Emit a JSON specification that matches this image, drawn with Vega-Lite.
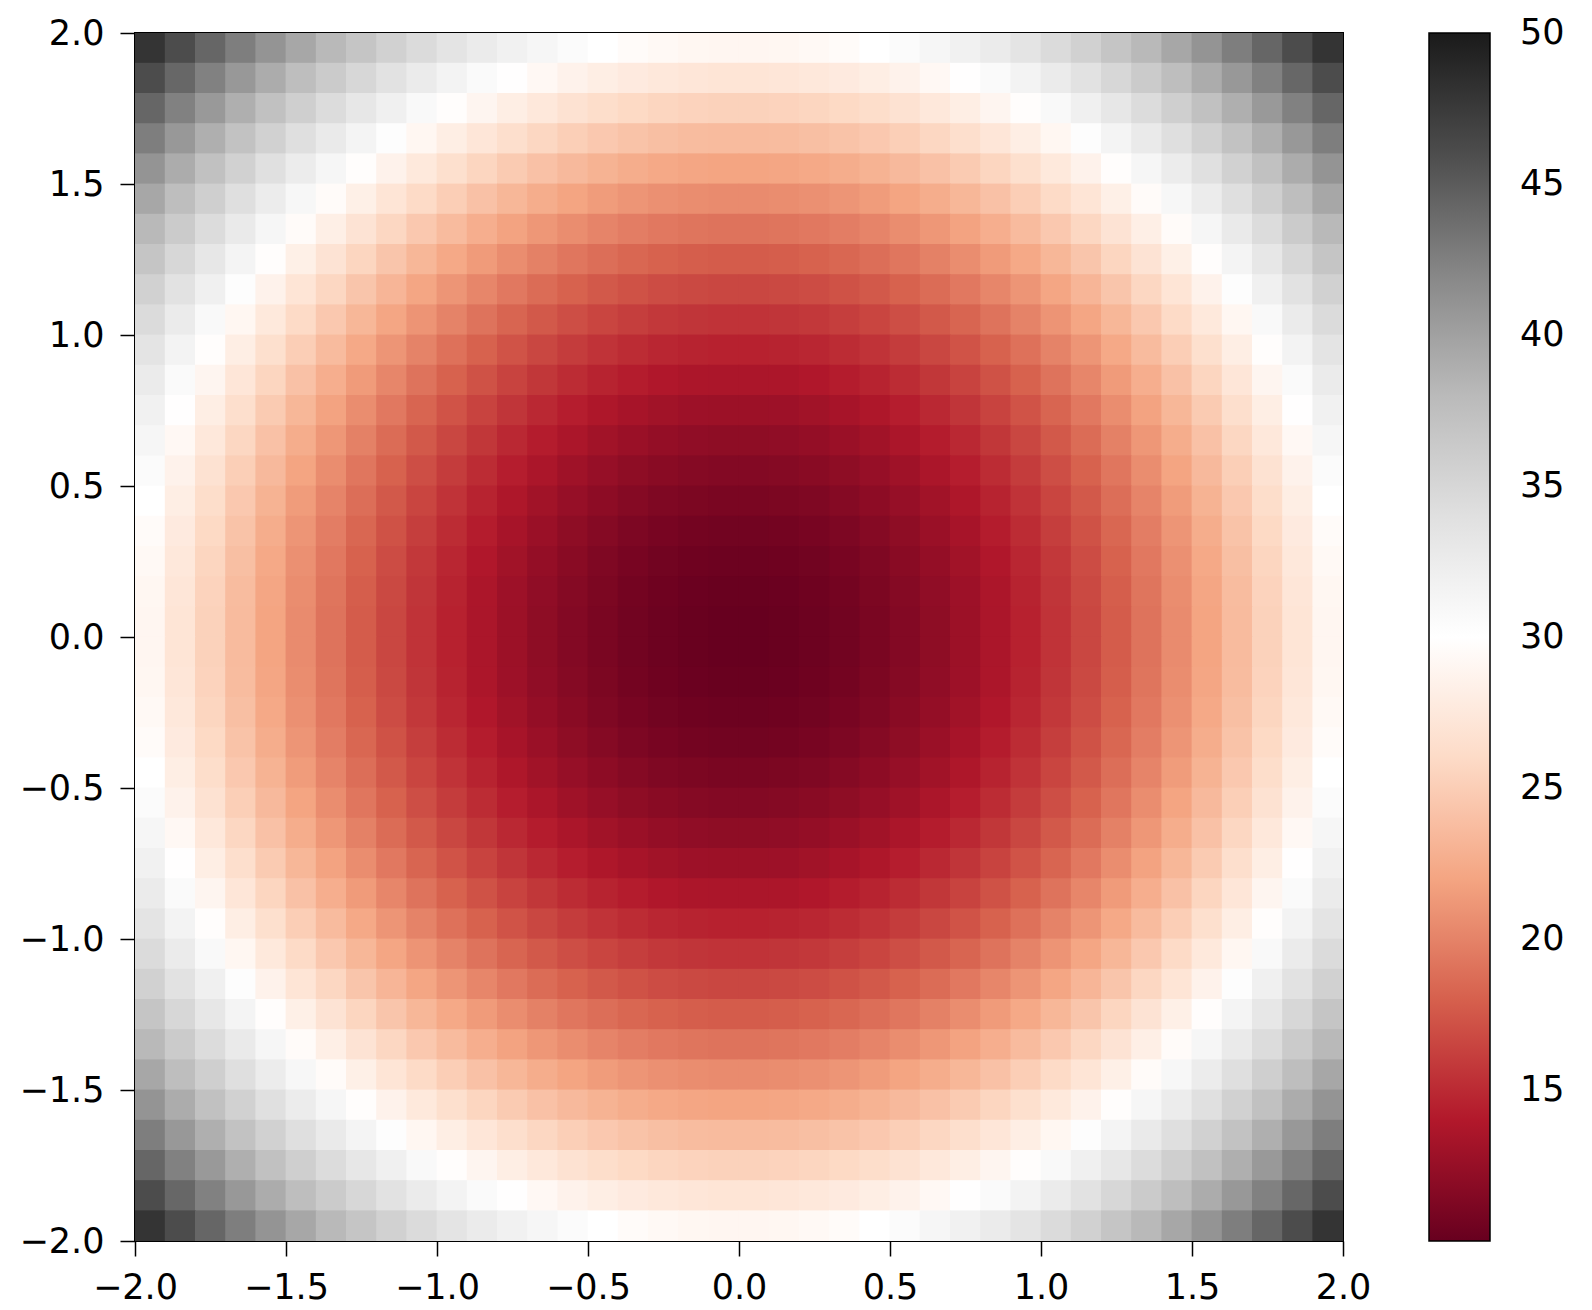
{
"$schema":"https://vega.github.io/schema/vega-lite/v6.json",
"autosize":"none",
"width":1208,"height":1208,
"padding":{"left":135,"top":33,"right":249,"bottom":69},
"background":"white",
"config":{"view":{"stroke":"black","strokeWidth":2},
"axis":{"labelFont":"DejaVu Sans","labelFontSize":35,"labelColor":"black","tickColor":"black","tickSize":15,"tickWidth":1.5,"domain":false,"grid":false,"title":null,"labelOverlap":false,"labelBound":false,"labelFlush":false}},
"data":{"values":[
{"x":-1.95,"y":1.95,"z":48.0},{"x":-1.85,"y":1.95,"z":46.1},{"x":-1.75,"y":1.95,"z":44.3},{"x":-1.65,"y":1.95,"z":42.6},{"x":-1.55,"y":1.95,"z":41.0},{"x":-1.45,"y":1.95,"z":39.5},{"x":-1.35,"y":1.95,"z":38.1},{"x":-1.25,"y":1.95,"z":36.8},{"x":-1.15,"y":1.95,"z":35.6},{"x":-1.05,"y":1.95,"z":34.5},{"x":-0.95,"y":1.95,"z":33.5},{"x":-0.85,"y":1.95,"z":32.6},{"x":-0.75,"y":1.95,"z":31.8},{"x":-0.65,"y":1.95,"z":31.1},{"x":-0.55,"y":1.95,"z":30.5},{"x":-0.45,"y":1.95,"z":30.0},{"x":-0.35,"y":1.95,"z":29.6},{"x":-0.25,"y":1.95,"z":29.3},{"x":-0.15,"y":1.95,"z":29.1},{"x":-0.05,"y":1.95,"z":29.0},{"x":0.05,"y":1.95,"z":29.0},{"x":0.15,"y":1.95,"z":29.1},{"x":0.25,"y":1.95,"z":29.3},{"x":0.35,"y":1.95,"z":29.6},{"x":0.45,"y":1.95,"z":30.0},{"x":0.55,"y":1.95,"z":30.5},{"x":0.65,"y":1.95,"z":31.1},{"x":0.75,"y":1.95,"z":31.8},{"x":0.85,"y":1.95,"z":32.6},{"x":0.95,"y":1.95,"z":33.5},{"x":1.05,"y":1.95,"z":34.5},{"x":1.15,"y":1.95,"z":35.6},{"x":1.25,"y":1.95,"z":36.8},{"x":1.35,"y":1.95,"z":38.1},{"x":1.45,"y":1.95,"z":39.5},{"x":1.55,"y":1.95,"z":41.0},{"x":1.65,"y":1.95,"z":42.6},{"x":1.75,"y":1.95,"z":44.3},{"x":1.85,"y":1.95,"z":46.1},{"x":1.95,"y":1.95,"z":48.0},
{"x":-1.95,"y":1.85,"z":46.1},{"x":-1.85,"y":1.85,"z":44.2},{"x":-1.75,"y":1.85,"z":42.4},{"x":-1.65,"y":1.85,"z":40.7},{"x":-1.55,"y":1.85,"z":39.1},{"x":-1.45,"y":1.85,"z":37.6},{"x":-1.35,"y":1.85,"z":36.2},{"x":-1.25,"y":1.85,"z":34.9},{"x":-1.15,"y":1.85,"z":33.7},{"x":-1.05,"y":1.85,"z":32.6},{"x":-0.95,"y":1.85,"z":31.6},{"x":-0.85,"y":1.85,"z":30.7},{"x":-0.75,"y":1.85,"z":29.9},{"x":-0.65,"y":1.85,"z":29.2},{"x":-0.55,"y":1.85,"z":28.6},{"x":-0.45,"y":1.85,"z":28.1},{"x":-0.35,"y":1.85,"z":27.7},{"x":-0.25,"y":1.85,"z":27.4},{"x":-0.15,"y":1.85,"z":27.2},{"x":-0.05,"y":1.85,"z":27.1},{"x":0.05,"y":1.85,"z":27.1},{"x":0.15,"y":1.85,"z":27.2},{"x":0.25,"y":1.85,"z":27.4},{"x":0.35,"y":1.85,"z":27.7},{"x":0.45,"y":1.85,"z":28.1},{"x":0.55,"y":1.85,"z":28.6},{"x":0.65,"y":1.85,"z":29.2},{"x":0.75,"y":1.85,"z":29.9},{"x":0.85,"y":1.85,"z":30.7},{"x":0.95,"y":1.85,"z":31.6},{"x":1.05,"y":1.85,"z":32.6},{"x":1.15,"y":1.85,"z":33.7},{"x":1.25,"y":1.85,"z":34.9},{"x":1.35,"y":1.85,"z":36.2},{"x":1.45,"y":1.85,"z":37.6},{"x":1.55,"y":1.85,"z":39.1},{"x":1.65,"y":1.85,"z":40.7},{"x":1.75,"y":1.85,"z":42.4},{"x":1.85,"y":1.85,"z":44.2},{"x":1.95,"y":1.85,"z":46.1},
{"x":-1.95,"y":1.75,"z":44.3},{"x":-1.85,"y":1.75,"z":42.4},{"x":-1.75,"y":1.75,"z":40.6},{"x":-1.65,"y":1.75,"z":38.9},{"x":-1.55,"y":1.75,"z":37.3},{"x":-1.45,"y":1.75,"z":35.8},{"x":-1.35,"y":1.75,"z":34.4},{"x":-1.25,"y":1.75,"z":33.1},{"x":-1.15,"y":1.75,"z":31.9},{"x":-1.05,"y":1.75,"z":30.8},{"x":-0.95,"y":1.75,"z":29.8},{"x":-0.85,"y":1.75,"z":28.9},{"x":-0.75,"y":1.75,"z":28.1},{"x":-0.65,"y":1.75,"z":27.4},{"x":-0.55,"y":1.75,"z":26.8},{"x":-0.45,"y":1.75,"z":26.3},{"x":-0.35,"y":1.75,"z":25.9},{"x":-0.25,"y":1.75,"z":25.6},{"x":-0.15,"y":1.75,"z":25.4},{"x":-0.05,"y":1.75,"z":25.3},{"x":0.05,"y":1.75,"z":25.3},{"x":0.15,"y":1.75,"z":25.4},{"x":0.25,"y":1.75,"z":25.6},{"x":0.35,"y":1.75,"z":25.9},{"x":0.45,"y":1.75,"z":26.3},{"x":0.55,"y":1.75,"z":26.8},{"x":0.65,"y":1.75,"z":27.4},{"x":0.75,"y":1.75,"z":28.1},{"x":0.85,"y":1.75,"z":28.9},{"x":0.95,"y":1.75,"z":29.8},{"x":1.05,"y":1.75,"z":30.8},{"x":1.15,"y":1.75,"z":31.9},{"x":1.25,"y":1.75,"z":33.1},{"x":1.35,"y":1.75,"z":34.4},{"x":1.45,"y":1.75,"z":35.8},{"x":1.55,"y":1.75,"z":37.3},{"x":1.65,"y":1.75,"z":38.9},{"x":1.75,"y":1.75,"z":40.6},{"x":1.85,"y":1.75,"z":42.4},{"x":1.95,"y":1.75,"z":44.3},
{"x":-1.95,"y":1.65,"z":42.6},{"x":-1.85,"y":1.65,"z":40.7},{"x":-1.75,"y":1.65,"z":38.9},{"x":-1.65,"y":1.65,"z":37.2},{"x":-1.55,"y":1.65,"z":35.6},{"x":-1.45,"y":1.65,"z":34.1},{"x":-1.35,"y":1.65,"z":32.7},{"x":-1.25,"y":1.65,"z":31.4},{"x":-1.15,"y":1.65,"z":30.2},{"x":-1.05,"y":1.65,"z":29.1},{"x":-0.95,"y":1.65,"z":28.1},{"x":-0.85,"y":1.65,"z":27.2},{"x":-0.75,"y":1.65,"z":26.4},{"x":-0.65,"y":1.65,"z":25.7},{"x":-0.55,"y":1.65,"z":25.1},{"x":-0.45,"y":1.65,"z":24.6},{"x":-0.35,"y":1.65,"z":24.2},{"x":-0.25,"y":1.65,"z":23.9},{"x":-0.15,"y":1.65,"z":23.7},{"x":-0.05,"y":1.65,"z":23.6},{"x":0.05,"y":1.65,"z":23.6},{"x":0.15,"y":1.65,"z":23.7},{"x":0.25,"y":1.65,"z":23.9},{"x":0.35,"y":1.65,"z":24.2},{"x":0.45,"y":1.65,"z":24.6},{"x":0.55,"y":1.65,"z":25.1},{"x":0.65,"y":1.65,"z":25.7},{"x":0.75,"y":1.65,"z":26.4},{"x":0.85,"y":1.65,"z":27.2},{"x":0.95,"y":1.65,"z":28.1},{"x":1.05,"y":1.65,"z":29.1},{"x":1.15,"y":1.65,"z":30.2},{"x":1.25,"y":1.65,"z":31.4},{"x":1.35,"y":1.65,"z":32.7},{"x":1.45,"y":1.65,"z":34.1},{"x":1.55,"y":1.65,"z":35.6},{"x":1.65,"y":1.65,"z":37.2},{"x":1.75,"y":1.65,"z":38.9},{"x":1.85,"y":1.65,"z":40.7},{"x":1.95,"y":1.65,"z":42.6},
{"x":-1.95,"y":1.55,"z":41.0},{"x":-1.85,"y":1.55,"z":39.1},{"x":-1.75,"y":1.55,"z":37.3},{"x":-1.65,"y":1.55,"z":35.6},{"x":-1.55,"y":1.55,"z":34.0},{"x":-1.45,"y":1.55,"z":32.5},{"x":-1.35,"y":1.55,"z":31.1},{"x":-1.25,"y":1.55,"z":29.8},{"x":-1.15,"y":1.55,"z":28.6},{"x":-1.05,"y":1.55,"z":27.5},{"x":-0.95,"y":1.55,"z":26.5},{"x":-0.85,"y":1.55,"z":25.6},{"x":-0.75,"y":1.55,"z":24.8},{"x":-0.65,"y":1.55,"z":24.1},{"x":-0.55,"y":1.55,"z":23.5},{"x":-0.45,"y":1.55,"z":23.0},{"x":-0.35,"y":1.55,"z":22.6},{"x":-0.25,"y":1.55,"z":22.3},{"x":-0.15,"y":1.55,"z":22.1},{"x":-0.05,"y":1.55,"z":22.0},{"x":0.05,"y":1.55,"z":22.0},{"x":0.15,"y":1.55,"z":22.1},{"x":0.25,"y":1.55,"z":22.3},{"x":0.35,"y":1.55,"z":22.6},{"x":0.45,"y":1.55,"z":23.0},{"x":0.55,"y":1.55,"z":23.5},{"x":0.65,"y":1.55,"z":24.1},{"x":0.75,"y":1.55,"z":24.8},{"x":0.85,"y":1.55,"z":25.6},{"x":0.95,"y":1.55,"z":26.5},{"x":1.05,"y":1.55,"z":27.5},{"x":1.15,"y":1.55,"z":28.6},{"x":1.25,"y":1.55,"z":29.8},{"x":1.35,"y":1.55,"z":31.1},{"x":1.45,"y":1.55,"z":32.5},{"x":1.55,"y":1.55,"z":34.0},{"x":1.65,"y":1.55,"z":35.6},{"x":1.75,"y":1.55,"z":37.3},{"x":1.85,"y":1.55,"z":39.1},{"x":1.95,"y":1.55,"z":41.0},
{"x":-1.95,"y":1.45,"z":39.5},{"x":-1.85,"y":1.45,"z":37.6},{"x":-1.75,"y":1.45,"z":35.8},{"x":-1.65,"y":1.45,"z":34.1},{"x":-1.55,"y":1.45,"z":32.5},{"x":-1.45,"y":1.45,"z":31.0},{"x":-1.35,"y":1.45,"z":29.6},{"x":-1.25,"y":1.45,"z":28.3},{"x":-1.15,"y":1.45,"z":27.1},{"x":-1.05,"y":1.45,"z":26.0},{"x":-0.95,"y":1.45,"z":25.0},{"x":-0.85,"y":1.45,"z":24.1},{"x":-0.75,"y":1.45,"z":23.3},{"x":-0.65,"y":1.45,"z":22.6},{"x":-0.55,"y":1.45,"z":22.0},{"x":-0.45,"y":1.45,"z":21.5},{"x":-0.35,"y":1.45,"z":21.1},{"x":-0.25,"y":1.45,"z":20.8},{"x":-0.15,"y":1.45,"z":20.6},{"x":-0.05,"y":1.45,"z":20.5},{"x":0.05,"y":1.45,"z":20.5},{"x":0.15,"y":1.45,"z":20.6},{"x":0.25,"y":1.45,"z":20.8},{"x":0.35,"y":1.45,"z":21.1},{"x":0.45,"y":1.45,"z":21.5},{"x":0.55,"y":1.45,"z":22.0},{"x":0.65,"y":1.45,"z":22.6},{"x":0.75,"y":1.45,"z":23.3},{"x":0.85,"y":1.45,"z":24.1},{"x":0.95,"y":1.45,"z":25.0},{"x":1.05,"y":1.45,"z":26.0},{"x":1.15,"y":1.45,"z":27.1},{"x":1.25,"y":1.45,"z":28.3},{"x":1.35,"y":1.45,"z":29.6},{"x":1.45,"y":1.45,"z":31.0},{"x":1.55,"y":1.45,"z":32.5},{"x":1.65,"y":1.45,"z":34.1},{"x":1.75,"y":1.45,"z":35.8},{"x":1.85,"y":1.45,"z":37.6},{"x":1.95,"y":1.45,"z":39.5},
{"x":-1.95,"y":1.35,"z":38.1},{"x":-1.85,"y":1.35,"z":36.2},{"x":-1.75,"y":1.35,"z":34.4},{"x":-1.65,"y":1.35,"z":32.7},{"x":-1.55,"y":1.35,"z":31.1},{"x":-1.45,"y":1.35,"z":29.6},{"x":-1.35,"y":1.35,"z":28.2},{"x":-1.25,"y":1.35,"z":26.9},{"x":-1.15,"y":1.35,"z":25.7},{"x":-1.05,"y":1.35,"z":24.6},{"x":-0.95,"y":1.35,"z":23.6},{"x":-0.85,"y":1.35,"z":22.7},{"x":-0.75,"y":1.35,"z":21.9},{"x":-0.65,"y":1.35,"z":21.2},{"x":-0.55,"y":1.35,"z":20.6},{"x":-0.45,"y":1.35,"z":20.1},{"x":-0.35,"y":1.35,"z":19.7},{"x":-0.25,"y":1.35,"z":19.4},{"x":-0.15,"y":1.35,"z":19.2},{"x":-0.05,"y":1.35,"z":19.1},{"x":0.05,"y":1.35,"z":19.1},{"x":0.15,"y":1.35,"z":19.2},{"x":0.25,"y":1.35,"z":19.4},{"x":0.35,"y":1.35,"z":19.7},{"x":0.45,"y":1.35,"z":20.1},{"x":0.55,"y":1.35,"z":20.6},{"x":0.65,"y":1.35,"z":21.2},{"x":0.75,"y":1.35,"z":21.9},{"x":0.85,"y":1.35,"z":22.7},{"x":0.95,"y":1.35,"z":23.6},{"x":1.05,"y":1.35,"z":24.6},{"x":1.15,"y":1.35,"z":25.7},{"x":1.25,"y":1.35,"z":26.9},{"x":1.35,"y":1.35,"z":28.2},{"x":1.45,"y":1.35,"z":29.6},{"x":1.55,"y":1.35,"z":31.1},{"x":1.65,"y":1.35,"z":32.7},{"x":1.75,"y":1.35,"z":34.4},{"x":1.85,"y":1.35,"z":36.2},{"x":1.95,"y":1.35,"z":38.1},
{"x":-1.95,"y":1.25,"z":36.8},{"x":-1.85,"y":1.25,"z":34.9},{"x":-1.75,"y":1.25,"z":33.1},{"x":-1.65,"y":1.25,"z":31.4},{"x":-1.55,"y":1.25,"z":29.8},{"x":-1.45,"y":1.25,"z":28.3},{"x":-1.35,"y":1.25,"z":26.9},{"x":-1.25,"y":1.25,"z":25.6},{"x":-1.15,"y":1.25,"z":24.4},{"x":-1.05,"y":1.25,"z":23.3},{"x":-0.95,"y":1.25,"z":22.3},{"x":-0.85,"y":1.25,"z":21.4},{"x":-0.75,"y":1.25,"z":20.6},{"x":-0.65,"y":1.25,"z":19.9},{"x":-0.55,"y":1.25,"z":19.3},{"x":-0.45,"y":1.25,"z":18.8},{"x":-0.35,"y":1.25,"z":18.4},{"x":-0.25,"y":1.25,"z":18.1},{"x":-0.15,"y":1.25,"z":17.9},{"x":-0.05,"y":1.25,"z":17.8},{"x":0.05,"y":1.25,"z":17.8},{"x":0.15,"y":1.25,"z":17.9},{"x":0.25,"y":1.25,"z":18.1},{"x":0.35,"y":1.25,"z":18.4},{"x":0.45,"y":1.25,"z":18.8},{"x":0.55,"y":1.25,"z":19.3},{"x":0.65,"y":1.25,"z":19.9},{"x":0.75,"y":1.25,"z":20.6},{"x":0.85,"y":1.25,"z":21.4},{"x":0.95,"y":1.25,"z":22.3},{"x":1.05,"y":1.25,"z":23.3},{"x":1.15,"y":1.25,"z":24.4},{"x":1.25,"y":1.25,"z":25.6},{"x":1.35,"y":1.25,"z":26.9},{"x":1.45,"y":1.25,"z":28.3},{"x":1.55,"y":1.25,"z":29.8},{"x":1.65,"y":1.25,"z":31.4},{"x":1.75,"y":1.25,"z":33.1},{"x":1.85,"y":1.25,"z":34.9},{"x":1.95,"y":1.25,"z":36.8},
{"x":-1.95,"y":1.15,"z":35.6},{"x":-1.85,"y":1.15,"z":33.7},{"x":-1.75,"y":1.15,"z":31.9},{"x":-1.65,"y":1.15,"z":30.2},{"x":-1.55,"y":1.15,"z":28.6},{"x":-1.45,"y":1.15,"z":27.1},{"x":-1.35,"y":1.15,"z":25.7},{"x":-1.25,"y":1.15,"z":24.4},{"x":-1.15,"y":1.15,"z":23.2},{"x":-1.05,"y":1.15,"z":22.1},{"x":-0.95,"y":1.15,"z":21.1},{"x":-0.85,"y":1.15,"z":20.2},{"x":-0.75,"y":1.15,"z":19.4},{"x":-0.65,"y":1.15,"z":18.7},{"x":-0.55,"y":1.15,"z":18.1},{"x":-0.45,"y":1.15,"z":17.6},{"x":-0.35,"y":1.15,"z":17.2},{"x":-0.25,"y":1.15,"z":16.9},{"x":-0.15,"y":1.15,"z":16.7},{"x":-0.05,"y":1.15,"z":16.6},{"x":0.05,"y":1.15,"z":16.6},{"x":0.15,"y":1.15,"z":16.7},{"x":0.25,"y":1.15,"z":16.9},{"x":0.35,"y":1.15,"z":17.2},{"x":0.45,"y":1.15,"z":17.6},{"x":0.55,"y":1.15,"z":18.1},{"x":0.65,"y":1.15,"z":18.7},{"x":0.75,"y":1.15,"z":19.4},{"x":0.85,"y":1.15,"z":20.2},{"x":0.95,"y":1.15,"z":21.1},{"x":1.05,"y":1.15,"z":22.1},{"x":1.15,"y":1.15,"z":23.2},{"x":1.25,"y":1.15,"z":24.4},{"x":1.35,"y":1.15,"z":25.7},{"x":1.45,"y":1.15,"z":27.1},{"x":1.55,"y":1.15,"z":28.6},{"x":1.65,"y":1.15,"z":30.2},{"x":1.75,"y":1.15,"z":31.9},{"x":1.85,"y":1.15,"z":33.7},{"x":1.95,"y":1.15,"z":35.6},
{"x":-1.95,"y":1.05,"z":34.5},{"x":-1.85,"y":1.05,"z":32.6},{"x":-1.75,"y":1.05,"z":30.8},{"x":-1.65,"y":1.05,"z":29.1},{"x":-1.55,"y":1.05,"z":27.5},{"x":-1.45,"y":1.05,"z":26.0},{"x":-1.35,"y":1.05,"z":24.6},{"x":-1.25,"y":1.05,"z":23.3},{"x":-1.15,"y":1.05,"z":22.1},{"x":-1.05,"y":1.05,"z":21.0},{"x":-0.95,"y":1.05,"z":20.0},{"x":-0.85,"y":1.05,"z":19.1},{"x":-0.75,"y":1.05,"z":18.3},{"x":-0.65,"y":1.05,"z":17.6},{"x":-0.55,"y":1.05,"z":17.0},{"x":-0.45,"y":1.05,"z":16.5},{"x":-0.35,"y":1.05,"z":16.1},{"x":-0.25,"y":1.05,"z":15.8},{"x":-0.15,"y":1.05,"z":15.6},{"x":-0.05,"y":1.05,"z":15.5},{"x":0.05,"y":1.05,"z":15.5},{"x":0.15,"y":1.05,"z":15.6},{"x":0.25,"y":1.05,"z":15.8},{"x":0.35,"y":1.05,"z":16.1},{"x":0.45,"y":1.05,"z":16.5},{"x":0.55,"y":1.05,"z":17.0},{"x":0.65,"y":1.05,"z":17.6},{"x":0.75,"y":1.05,"z":18.3},{"x":0.85,"y":1.05,"z":19.1},{"x":0.95,"y":1.05,"z":20.0},{"x":1.05,"y":1.05,"z":21.0},{"x":1.15,"y":1.05,"z":22.1},{"x":1.25,"y":1.05,"z":23.3},{"x":1.35,"y":1.05,"z":24.6},{"x":1.45,"y":1.05,"z":26.0},{"x":1.55,"y":1.05,"z":27.5},{"x":1.65,"y":1.05,"z":29.1},{"x":1.75,"y":1.05,"z":30.8},{"x":1.85,"y":1.05,"z":32.6},{"x":1.95,"y":1.05,"z":34.5},
{"x":-1.95,"y":0.95,"z":33.5},{"x":-1.85,"y":0.95,"z":31.6},{"x":-1.75,"y":0.95,"z":29.8},{"x":-1.65,"y":0.95,"z":28.1},{"x":-1.55,"y":0.95,"z":26.5},{"x":-1.45,"y":0.95,"z":25.0},{"x":-1.35,"y":0.95,"z":23.6},{"x":-1.25,"y":0.95,"z":22.3},{"x":-1.15,"y":0.95,"z":21.1},{"x":-1.05,"y":0.95,"z":20.0},{"x":-0.95,"y":0.95,"z":19.0},{"x":-0.85,"y":0.95,"z":18.1},{"x":-0.75,"y":0.95,"z":17.3},{"x":-0.65,"y":0.95,"z":16.6},{"x":-0.55,"y":0.95,"z":16.0},{"x":-0.45,"y":0.95,"z":15.5},{"x":-0.35,"y":0.95,"z":15.1},{"x":-0.25,"y":0.95,"z":14.8},{"x":-0.15,"y":0.95,"z":14.6},{"x":-0.05,"y":0.95,"z":14.5},{"x":0.05,"y":0.95,"z":14.5},{"x":0.15,"y":0.95,"z":14.6},{"x":0.25,"y":0.95,"z":14.8},{"x":0.35,"y":0.95,"z":15.1},{"x":0.45,"y":0.95,"z":15.5},{"x":0.55,"y":0.95,"z":16.0},{"x":0.65,"y":0.95,"z":16.6},{"x":0.75,"y":0.95,"z":17.3},{"x":0.85,"y":0.95,"z":18.1},{"x":0.95,"y":0.95,"z":19.0},{"x":1.05,"y":0.95,"z":20.0},{"x":1.15,"y":0.95,"z":21.1},{"x":1.25,"y":0.95,"z":22.3},{"x":1.35,"y":0.95,"z":23.6},{"x":1.45,"y":0.95,"z":25.0},{"x":1.55,"y":0.95,"z":26.5},{"x":1.65,"y":0.95,"z":28.1},{"x":1.75,"y":0.95,"z":29.8},{"x":1.85,"y":0.95,"z":31.6},{"x":1.95,"y":0.95,"z":33.5},
{"x":-1.95,"y":0.85,"z":32.6},{"x":-1.85,"y":0.85,"z":30.7},{"x":-1.75,"y":0.85,"z":28.9},{"x":-1.65,"y":0.85,"z":27.2},{"x":-1.55,"y":0.85,"z":25.6},{"x":-1.45,"y":0.85,"z":24.1},{"x":-1.35,"y":0.85,"z":22.7},{"x":-1.25,"y":0.85,"z":21.4},{"x":-1.15,"y":0.85,"z":20.2},{"x":-1.05,"y":0.85,"z":19.1},{"x":-0.95,"y":0.85,"z":18.1},{"x":-0.85,"y":0.85,"z":17.2},{"x":-0.75,"y":0.85,"z":16.4},{"x":-0.65,"y":0.85,"z":15.7},{"x":-0.55,"y":0.85,"z":15.1},{"x":-0.45,"y":0.85,"z":14.6},{"x":-0.35,"y":0.85,"z":14.2},{"x":-0.25,"y":0.85,"z":13.9},{"x":-0.15,"y":0.85,"z":13.7},{"x":-0.05,"y":0.85,"z":13.6},{"x":0.05,"y":0.85,"z":13.6},{"x":0.15,"y":0.85,"z":13.7},{"x":0.25,"y":0.85,"z":13.9},{"x":0.35,"y":0.85,"z":14.2},{"x":0.45,"y":0.85,"z":14.6},{"x":0.55,"y":0.85,"z":15.1},{"x":0.65,"y":0.85,"z":15.7},{"x":0.75,"y":0.85,"z":16.4},{"x":0.85,"y":0.85,"z":17.2},{"x":0.95,"y":0.85,"z":18.1},{"x":1.05,"y":0.85,"z":19.1},{"x":1.15,"y":0.85,"z":20.2},{"x":1.25,"y":0.85,"z":21.4},{"x":1.35,"y":0.85,"z":22.7},{"x":1.45,"y":0.85,"z":24.1},{"x":1.55,"y":0.85,"z":25.6},{"x":1.65,"y":0.85,"z":27.2},{"x":1.75,"y":0.85,"z":28.9},{"x":1.85,"y":0.85,"z":30.7},{"x":1.95,"y":0.85,"z":32.6},
{"x":-1.95,"y":0.75,"z":31.8},{"x":-1.85,"y":0.75,"z":29.9},{"x":-1.75,"y":0.75,"z":28.1},{"x":-1.65,"y":0.75,"z":26.4},{"x":-1.55,"y":0.75,"z":24.8},{"x":-1.45,"y":0.75,"z":23.3},{"x":-1.35,"y":0.75,"z":21.9},{"x":-1.25,"y":0.75,"z":20.6},{"x":-1.15,"y":0.75,"z":19.4},{"x":-1.05,"y":0.75,"z":18.3},{"x":-0.95,"y":0.75,"z":17.3},{"x":-0.85,"y":0.75,"z":16.4},{"x":-0.75,"y":0.75,"z":15.6},{"x":-0.65,"y":0.75,"z":14.9},{"x":-0.55,"y":0.75,"z":14.3},{"x":-0.45,"y":0.75,"z":13.8},{"x":-0.35,"y":0.75,"z":13.4},{"x":-0.25,"y":0.75,"z":13.1},{"x":-0.15,"y":0.75,"z":12.9},{"x":-0.05,"y":0.75,"z":12.8},{"x":0.05,"y":0.75,"z":12.8},{"x":0.15,"y":0.75,"z":12.9},{"x":0.25,"y":0.75,"z":13.1},{"x":0.35,"y":0.75,"z":13.4},{"x":0.45,"y":0.75,"z":13.8},{"x":0.55,"y":0.75,"z":14.3},{"x":0.65,"y":0.75,"z":14.9},{"x":0.75,"y":0.75,"z":15.6},{"x":0.85,"y":0.75,"z":16.4},{"x":0.95,"y":0.75,"z":17.3},{"x":1.05,"y":0.75,"z":18.3},{"x":1.15,"y":0.75,"z":19.4},{"x":1.25,"y":0.75,"z":20.6},{"x":1.35,"y":0.75,"z":21.9},{"x":1.45,"y":0.75,"z":23.3},{"x":1.55,"y":0.75,"z":24.8},{"x":1.65,"y":0.75,"z":26.4},{"x":1.75,"y":0.75,"z":28.1},{"x":1.85,"y":0.75,"z":29.9},{"x":1.95,"y":0.75,"z":31.8},
{"x":-1.95,"y":0.65,"z":31.1},{"x":-1.85,"y":0.65,"z":29.2},{"x":-1.75,"y":0.65,"z":27.4},{"x":-1.65,"y":0.65,"z":25.7},{"x":-1.55,"y":0.65,"z":24.1},{"x":-1.45,"y":0.65,"z":22.6},{"x":-1.35,"y":0.65,"z":21.2},{"x":-1.25,"y":0.65,"z":19.9},{"x":-1.15,"y":0.65,"z":18.7},{"x":-1.05,"y":0.65,"z":17.6},{"x":-0.95,"y":0.65,"z":16.6},{"x":-0.85,"y":0.65,"z":15.7},{"x":-0.75,"y":0.65,"z":14.9},{"x":-0.65,"y":0.65,"z":14.2},{"x":-0.55,"y":0.65,"z":13.6},{"x":-0.45,"y":0.65,"z":13.1},{"x":-0.35,"y":0.65,"z":12.7},{"x":-0.25,"y":0.65,"z":12.4},{"x":-0.15,"y":0.65,"z":12.2},{"x":-0.05,"y":0.65,"z":12.1},{"x":0.05,"y":0.65,"z":12.1},{"x":0.15,"y":0.65,"z":12.2},{"x":0.25,"y":0.65,"z":12.4},{"x":0.35,"y":0.65,"z":12.7},{"x":0.45,"y":0.65,"z":13.1},{"x":0.55,"y":0.65,"z":13.6},{"x":0.65,"y":0.65,"z":14.2},{"x":0.75,"y":0.65,"z":14.9},{"x":0.85,"y":0.65,"z":15.7},{"x":0.95,"y":0.65,"z":16.6},{"x":1.05,"y":0.65,"z":17.6},{"x":1.15,"y":0.65,"z":18.7},{"x":1.25,"y":0.65,"z":19.9},{"x":1.35,"y":0.65,"z":21.2},{"x":1.45,"y":0.65,"z":22.6},{"x":1.55,"y":0.65,"z":24.1},{"x":1.65,"y":0.65,"z":25.7},{"x":1.75,"y":0.65,"z":27.4},{"x":1.85,"y":0.65,"z":29.2},{"x":1.95,"y":0.65,"z":31.1},
{"x":-1.95,"y":0.55,"z":30.5},{"x":-1.85,"y":0.55,"z":28.6},{"x":-1.75,"y":0.55,"z":26.8},{"x":-1.65,"y":0.55,"z":25.1},{"x":-1.55,"y":0.55,"z":23.5},{"x":-1.45,"y":0.55,"z":22.0},{"x":-1.35,"y":0.55,"z":20.6},{"x":-1.25,"y":0.55,"z":19.3},{"x":-1.15,"y":0.55,"z":18.1},{"x":-1.05,"y":0.55,"z":17.0},{"x":-0.95,"y":0.55,"z":16.0},{"x":-0.85,"y":0.55,"z":15.1},{"x":-0.75,"y":0.55,"z":14.3},{"x":-0.65,"y":0.55,"z":13.6},{"x":-0.55,"y":0.55,"z":13.0},{"x":-0.45,"y":0.55,"z":12.5},{"x":-0.35,"y":0.55,"z":12.1},{"x":-0.25,"y":0.55,"z":11.8},{"x":-0.15,"y":0.55,"z":11.6},{"x":-0.05,"y":0.55,"z":11.5},{"x":0.05,"y":0.55,"z":11.5},{"x":0.15,"y":0.55,"z":11.6},{"x":0.25,"y":0.55,"z":11.8},{"x":0.35,"y":0.55,"z":12.1},{"x":0.45,"y":0.55,"z":12.5},{"x":0.55,"y":0.55,"z":13.0},{"x":0.65,"y":0.55,"z":13.6},{"x":0.75,"y":0.55,"z":14.3},{"x":0.85,"y":0.55,"z":15.1},{"x":0.95,"y":0.55,"z":16.0},{"x":1.05,"y":0.55,"z":17.0},{"x":1.15,"y":0.55,"z":18.1},{"x":1.25,"y":0.55,"z":19.3},{"x":1.35,"y":0.55,"z":20.6},{"x":1.45,"y":0.55,"z":22.0},{"x":1.55,"y":0.55,"z":23.5},{"x":1.65,"y":0.55,"z":25.1},{"x":1.75,"y":0.55,"z":26.8},{"x":1.85,"y":0.55,"z":28.6},{"x":1.95,"y":0.55,"z":30.5},
{"x":-1.95,"y":0.45,"z":30.0},{"x":-1.85,"y":0.45,"z":28.1},{"x":-1.75,"y":0.45,"z":26.3},{"x":-1.65,"y":0.45,"z":24.6},{"x":-1.55,"y":0.45,"z":23.0},{"x":-1.45,"y":0.45,"z":21.5},{"x":-1.35,"y":0.45,"z":20.1},{"x":-1.25,"y":0.45,"z":18.8},{"x":-1.15,"y":0.45,"z":17.6},{"x":-1.05,"y":0.45,"z":16.5},{"x":-0.95,"y":0.45,"z":15.5},{"x":-0.85,"y":0.45,"z":14.6},{"x":-0.75,"y":0.45,"z":13.8},{"x":-0.65,"y":0.45,"z":13.1},{"x":-0.55,"y":0.45,"z":12.5},{"x":-0.45,"y":0.45,"z":12.0},{"x":-0.35,"y":0.45,"z":11.6},{"x":-0.25,"y":0.45,"z":11.3},{"x":-0.15,"y":0.45,"z":11.1},{"x":-0.05,"y":0.45,"z":11.0},{"x":0.05,"y":0.45,"z":11.0},{"x":0.15,"y":0.45,"z":11.1},{"x":0.25,"y":0.45,"z":11.3},{"x":0.35,"y":0.45,"z":11.6},{"x":0.45,"y":0.45,"z":12.0},{"x":0.55,"y":0.45,"z":12.5},{"x":0.65,"y":0.45,"z":13.1},{"x":0.75,"y":0.45,"z":13.8},{"x":0.85,"y":0.45,"z":14.6},{"x":0.95,"y":0.45,"z":15.5},{"x":1.05,"y":0.45,"z":16.5},{"x":1.15,"y":0.45,"z":17.6},{"x":1.25,"y":0.45,"z":18.8},{"x":1.35,"y":0.45,"z":20.1},{"x":1.45,"y":0.45,"z":21.5},{"x":1.55,"y":0.45,"z":23.0},{"x":1.65,"y":0.45,"z":24.6},{"x":1.75,"y":0.45,"z":26.3},{"x":1.85,"y":0.45,"z":28.1},{"x":1.95,"y":0.45,"z":30.0},
{"x":-1.95,"y":0.35,"z":29.6},{"x":-1.85,"y":0.35,"z":27.7},{"x":-1.75,"y":0.35,"z":25.9},{"x":-1.65,"y":0.35,"z":24.2},{"x":-1.55,"y":0.35,"z":22.6},{"x":-1.45,"y":0.35,"z":21.1},{"x":-1.35,"y":0.35,"z":19.7},{"x":-1.25,"y":0.35,"z":18.4},{"x":-1.15,"y":0.35,"z":17.2},{"x":-1.05,"y":0.35,"z":16.1},{"x":-0.95,"y":0.35,"z":15.1},{"x":-0.85,"y":0.35,"z":14.2},{"x":-0.75,"y":0.35,"z":13.4},{"x":-0.65,"y":0.35,"z":12.7},{"x":-0.55,"y":0.35,"z":12.1},{"x":-0.45,"y":0.35,"z":11.6},{"x":-0.35,"y":0.35,"z":11.2},{"x":-0.25,"y":0.35,"z":10.9},{"x":-0.15,"y":0.35,"z":10.7},{"x":-0.05,"y":0.35,"z":10.6},{"x":0.05,"y":0.35,"z":10.6},{"x":0.15,"y":0.35,"z":10.7},{"x":0.25,"y":0.35,"z":10.9},{"x":0.35,"y":0.35,"z":11.2},{"x":0.45,"y":0.35,"z":11.6},{"x":0.55,"y":0.35,"z":12.1},{"x":0.65,"y":0.35,"z":12.7},{"x":0.75,"y":0.35,"z":13.4},{"x":0.85,"y":0.35,"z":14.2},{"x":0.95,"y":0.35,"z":15.1},{"x":1.05,"y":0.35,"z":16.1},{"x":1.15,"y":0.35,"z":17.2},{"x":1.25,"y":0.35,"z":18.4},{"x":1.35,"y":0.35,"z":19.7},{"x":1.45,"y":0.35,"z":21.1},{"x":1.55,"y":0.35,"z":22.6},{"x":1.65,"y":0.35,"z":24.2},{"x":1.75,"y":0.35,"z":25.9},{"x":1.85,"y":0.35,"z":27.7},{"x":1.95,"y":0.35,"z":29.6},
{"x":-1.95,"y":0.25,"z":29.3},{"x":-1.85,"y":0.25,"z":27.4},{"x":-1.75,"y":0.25,"z":25.6},{"x":-1.65,"y":0.25,"z":23.9},{"x":-1.55,"y":0.25,"z":22.3},{"x":-1.45,"y":0.25,"z":20.8},{"x":-1.35,"y":0.25,"z":19.4},{"x":-1.25,"y":0.25,"z":18.1},{"x":-1.15,"y":0.25,"z":16.9},{"x":-1.05,"y":0.25,"z":15.8},{"x":-0.95,"y":0.25,"z":14.8},{"x":-0.85,"y":0.25,"z":13.9},{"x":-0.75,"y":0.25,"z":13.1},{"x":-0.65,"y":0.25,"z":12.4},{"x":-0.55,"y":0.25,"z":11.8},{"x":-0.45,"y":0.25,"z":11.3},{"x":-0.35,"y":0.25,"z":10.9},{"x":-0.25,"y":0.25,"z":10.6},{"x":-0.15,"y":0.25,"z":10.4},{"x":-0.05,"y":0.25,"z":10.3},{"x":0.05,"y":0.25,"z":10.3},{"x":0.15,"y":0.25,"z":10.4},{"x":0.25,"y":0.25,"z":10.6},{"x":0.35,"y":0.25,"z":10.9},{"x":0.45,"y":0.25,"z":11.3},{"x":0.55,"y":0.25,"z":11.8},{"x":0.65,"y":0.25,"z":12.4},{"x":0.75,"y":0.25,"z":13.1},{"x":0.85,"y":0.25,"z":13.9},{"x":0.95,"y":0.25,"z":14.8},{"x":1.05,"y":0.25,"z":15.8},{"x":1.15,"y":0.25,"z":16.9},{"x":1.25,"y":0.25,"z":18.1},{"x":1.35,"y":0.25,"z":19.4},{"x":1.45,"y":0.25,"z":20.8},{"x":1.55,"y":0.25,"z":22.3},{"x":1.65,"y":0.25,"z":23.9},{"x":1.75,"y":0.25,"z":25.6},{"x":1.85,"y":0.25,"z":27.4},{"x":1.95,"y":0.25,"z":29.3},
{"x":-1.95,"y":0.15,"z":29.1},{"x":-1.85,"y":0.15,"z":27.2},{"x":-1.75,"y":0.15,"z":25.4},{"x":-1.65,"y":0.15,"z":23.7},{"x":-1.55,"y":0.15,"z":22.1},{"x":-1.45,"y":0.15,"z":20.6},{"x":-1.35,"y":0.15,"z":19.2},{"x":-1.25,"y":0.15,"z":17.9},{"x":-1.15,"y":0.15,"z":16.7},{"x":-1.05,"y":0.15,"z":15.6},{"x":-0.95,"y":0.15,"z":14.6},{"x":-0.85,"y":0.15,"z":13.7},{"x":-0.75,"y":0.15,"z":12.9},{"x":-0.65,"y":0.15,"z":12.2},{"x":-0.55,"y":0.15,"z":11.6},{"x":-0.45,"y":0.15,"z":11.1},{"x":-0.35,"y":0.15,"z":10.7},{"x":-0.25,"y":0.15,"z":10.4},{"x":-0.15,"y":0.15,"z":10.2},{"x":-0.05,"y":0.15,"z":10.1},{"x":0.05,"y":0.15,"z":10.1},{"x":0.15,"y":0.15,"z":10.2},{"x":0.25,"y":0.15,"z":10.4},{"x":0.35,"y":0.15,"z":10.7},{"x":0.45,"y":0.15,"z":11.1},{"x":0.55,"y":0.15,"z":11.6},{"x":0.65,"y":0.15,"z":12.2},{"x":0.75,"y":0.15,"z":12.9},{"x":0.85,"y":0.15,"z":13.7},{"x":0.95,"y":0.15,"z":14.6},{"x":1.05,"y":0.15,"z":15.6},{"x":1.15,"y":0.15,"z":16.7},{"x":1.25,"y":0.15,"z":17.9},{"x":1.35,"y":0.15,"z":19.2},{"x":1.45,"y":0.15,"z":20.6},{"x":1.55,"y":0.15,"z":22.1},{"x":1.65,"y":0.15,"z":23.7},{"x":1.75,"y":0.15,"z":25.4},{"x":1.85,"y":0.15,"z":27.2},{"x":1.95,"y":0.15,"z":29.1},
{"x":-1.95,"y":0.05,"z":29.0},{"x":-1.85,"y":0.05,"z":27.1},{"x":-1.75,"y":0.05,"z":25.3},{"x":-1.65,"y":0.05,"z":23.6},{"x":-1.55,"y":0.05,"z":22.0},{"x":-1.45,"y":0.05,"z":20.5},{"x":-1.35,"y":0.05,"z":19.1},{"x":-1.25,"y":0.05,"z":17.8},{"x":-1.15,"y":0.05,"z":16.6},{"x":-1.05,"y":0.05,"z":15.5},{"x":-0.95,"y":0.05,"z":14.5},{"x":-0.85,"y":0.05,"z":13.6},{"x":-0.75,"y":0.05,"z":12.8},{"x":-0.65,"y":0.05,"z":12.1},{"x":-0.55,"y":0.05,"z":11.5},{"x":-0.45,"y":0.05,"z":11.0},{"x":-0.35,"y":0.05,"z":10.6},{"x":-0.25,"y":0.05,"z":10.3},{"x":-0.15,"y":0.05,"z":10.1},{"x":-0.05,"y":0.05,"z":10.0},{"x":0.05,"y":0.05,"z":10.0},{"x":0.15,"y":0.05,"z":10.1},{"x":0.25,"y":0.05,"z":10.3},{"x":0.35,"y":0.05,"z":10.6},{"x":0.45,"y":0.05,"z":11.0},{"x":0.55,"y":0.05,"z":11.5},{"x":0.65,"y":0.05,"z":12.1},{"x":0.75,"y":0.05,"z":12.8},{"x":0.85,"y":0.05,"z":13.6},{"x":0.95,"y":0.05,"z":14.5},{"x":1.05,"y":0.05,"z":15.5},{"x":1.15,"y":0.05,"z":16.6},{"x":1.25,"y":0.05,"z":17.8},{"x":1.35,"y":0.05,"z":19.1},{"x":1.45,"y":0.05,"z":20.5},{"x":1.55,"y":0.05,"z":22.0},{"x":1.65,"y":0.05,"z":23.6},{"x":1.75,"y":0.05,"z":25.3},{"x":1.85,"y":0.05,"z":27.1},{"x":1.95,"y":0.05,"z":29.0},
{"x":-1.95,"y":-0.05,"z":29.0},{"x":-1.85,"y":-0.05,"z":27.1},{"x":-1.75,"y":-0.05,"z":25.3},{"x":-1.65,"y":-0.05,"z":23.6},{"x":-1.55,"y":-0.05,"z":22.0},{"x":-1.45,"y":-0.05,"z":20.5},{"x":-1.35,"y":-0.05,"z":19.1},{"x":-1.25,"y":-0.05,"z":17.8},{"x":-1.15,"y":-0.05,"z":16.6},{"x":-1.05,"y":-0.05,"z":15.5},{"x":-0.95,"y":-0.05,"z":14.5},{"x":-0.85,"y":-0.05,"z":13.6},{"x":-0.75,"y":-0.05,"z":12.8},{"x":-0.65,"y":-0.05,"z":12.1},{"x":-0.55,"y":-0.05,"z":11.5},{"x":-0.45,"y":-0.05,"z":11.0},{"x":-0.35,"y":-0.05,"z":10.6},{"x":-0.25,"y":-0.05,"z":10.3},{"x":-0.15,"y":-0.05,"z":10.1},{"x":-0.05,"y":-0.05,"z":10.0},{"x":0.05,"y":-0.05,"z":10.0},{"x":0.15,"y":-0.05,"z":10.1},{"x":0.25,"y":-0.05,"z":10.3},{"x":0.35,"y":-0.05,"z":10.6},{"x":0.45,"y":-0.05,"z":11.0},{"x":0.55,"y":-0.05,"z":11.5},{"x":0.65,"y":-0.05,"z":12.1},{"x":0.75,"y":-0.05,"z":12.8},{"x":0.85,"y":-0.05,"z":13.6},{"x":0.95,"y":-0.05,"z":14.5},{"x":1.05,"y":-0.05,"z":15.5},{"x":1.15,"y":-0.05,"z":16.6},{"x":1.25,"y":-0.05,"z":17.8},{"x":1.35,"y":-0.05,"z":19.1},{"x":1.45,"y":-0.05,"z":20.5},{"x":1.55,"y":-0.05,"z":22.0},{"x":1.65,"y":-0.05,"z":23.6},{"x":1.75,"y":-0.05,"z":25.3},{"x":1.85,"y":-0.05,"z":27.1},{"x":1.95,"y":-0.05,"z":29.0},
{"x":-1.95,"y":-0.15,"z":29.1},{"x":-1.85,"y":-0.15,"z":27.2},{"x":-1.75,"y":-0.15,"z":25.4},{"x":-1.65,"y":-0.15,"z":23.7},{"x":-1.55,"y":-0.15,"z":22.1},{"x":-1.45,"y":-0.15,"z":20.6},{"x":-1.35,"y":-0.15,"z":19.2},{"x":-1.25,"y":-0.15,"z":17.9},{"x":-1.15,"y":-0.15,"z":16.7},{"x":-1.05,"y":-0.15,"z":15.6},{"x":-0.95,"y":-0.15,"z":14.6},{"x":-0.85,"y":-0.15,"z":13.7},{"x":-0.75,"y":-0.15,"z":12.9},{"x":-0.65,"y":-0.15,"z":12.2},{"x":-0.55,"y":-0.15,"z":11.6},{"x":-0.45,"y":-0.15,"z":11.1},{"x":-0.35,"y":-0.15,"z":10.7},{"x":-0.25,"y":-0.15,"z":10.4},{"x":-0.15,"y":-0.15,"z":10.2},{"x":-0.05,"y":-0.15,"z":10.1},{"x":0.05,"y":-0.15,"z":10.1},{"x":0.15,"y":-0.15,"z":10.2},{"x":0.25,"y":-0.15,"z":10.4},{"x":0.35,"y":-0.15,"z":10.7},{"x":0.45,"y":-0.15,"z":11.1},{"x":0.55,"y":-0.15,"z":11.6},{"x":0.65,"y":-0.15,"z":12.2},{"x":0.75,"y":-0.15,"z":12.9},{"x":0.85,"y":-0.15,"z":13.7},{"x":0.95,"y":-0.15,"z":14.6},{"x":1.05,"y":-0.15,"z":15.6},{"x":1.15,"y":-0.15,"z":16.7},{"x":1.25,"y":-0.15,"z":17.9},{"x":1.35,"y":-0.15,"z":19.2},{"x":1.45,"y":-0.15,"z":20.6},{"x":1.55,"y":-0.15,"z":22.1},{"x":1.65,"y":-0.15,"z":23.7},{"x":1.75,"y":-0.15,"z":25.4},{"x":1.85,"y":-0.15,"z":27.2},{"x":1.95,"y":-0.15,"z":29.1},
{"x":-1.95,"y":-0.25,"z":29.3},{"x":-1.85,"y":-0.25,"z":27.4},{"x":-1.75,"y":-0.25,"z":25.6},{"x":-1.65,"y":-0.25,"z":23.9},{"x":-1.55,"y":-0.25,"z":22.3},{"x":-1.45,"y":-0.25,"z":20.8},{"x":-1.35,"y":-0.25,"z":19.4},{"x":-1.25,"y":-0.25,"z":18.1},{"x":-1.15,"y":-0.25,"z":16.9},{"x":-1.05,"y":-0.25,"z":15.8},{"x":-0.95,"y":-0.25,"z":14.8},{"x":-0.85,"y":-0.25,"z":13.9},{"x":-0.75,"y":-0.25,"z":13.1},{"x":-0.65,"y":-0.25,"z":12.4},{"x":-0.55,"y":-0.25,"z":11.8},{"x":-0.45,"y":-0.25,"z":11.3},{"x":-0.35,"y":-0.25,"z":10.9},{"x":-0.25,"y":-0.25,"z":10.6},{"x":-0.15,"y":-0.25,"z":10.4},{"x":-0.05,"y":-0.25,"z":10.3},{"x":0.05,"y":-0.25,"z":10.3},{"x":0.15,"y":-0.25,"z":10.4},{"x":0.25,"y":-0.25,"z":10.6},{"x":0.35,"y":-0.25,"z":10.9},{"x":0.45,"y":-0.25,"z":11.3},{"x":0.55,"y":-0.25,"z":11.8},{"x":0.65,"y":-0.25,"z":12.4},{"x":0.75,"y":-0.25,"z":13.1},{"x":0.85,"y":-0.25,"z":13.9},{"x":0.95,"y":-0.25,"z":14.8},{"x":1.05,"y":-0.25,"z":15.8},{"x":1.15,"y":-0.25,"z":16.9},{"x":1.25,"y":-0.25,"z":18.1},{"x":1.35,"y":-0.25,"z":19.4},{"x":1.45,"y":-0.25,"z":20.8},{"x":1.55,"y":-0.25,"z":22.3},{"x":1.65,"y":-0.25,"z":23.9},{"x":1.75,"y":-0.25,"z":25.6},{"x":1.85,"y":-0.25,"z":27.4},{"x":1.95,"y":-0.25,"z":29.3},
{"x":-1.95,"y":-0.35,"z":29.6},{"x":-1.85,"y":-0.35,"z":27.7},{"x":-1.75,"y":-0.35,"z":25.9},{"x":-1.65,"y":-0.35,"z":24.2},{"x":-1.55,"y":-0.35,"z":22.6},{"x":-1.45,"y":-0.35,"z":21.1},{"x":-1.35,"y":-0.35,"z":19.7},{"x":-1.25,"y":-0.35,"z":18.4},{"x":-1.15,"y":-0.35,"z":17.2},{"x":-1.05,"y":-0.35,"z":16.1},{"x":-0.95,"y":-0.35,"z":15.1},{"x":-0.85,"y":-0.35,"z":14.2},{"x":-0.75,"y":-0.35,"z":13.4},{"x":-0.65,"y":-0.35,"z":12.7},{"x":-0.55,"y":-0.35,"z":12.1},{"x":-0.45,"y":-0.35,"z":11.6},{"x":-0.35,"y":-0.35,"z":11.2},{"x":-0.25,"y":-0.35,"z":10.9},{"x":-0.15,"y":-0.35,"z":10.7},{"x":-0.05,"y":-0.35,"z":10.6},{"x":0.05,"y":-0.35,"z":10.6},{"x":0.15,"y":-0.35,"z":10.7},{"x":0.25,"y":-0.35,"z":10.9},{"x":0.35,"y":-0.35,"z":11.2},{"x":0.45,"y":-0.35,"z":11.6},{"x":0.55,"y":-0.35,"z":12.1},{"x":0.65,"y":-0.35,"z":12.7},{"x":0.75,"y":-0.35,"z":13.4},{"x":0.85,"y":-0.35,"z":14.2},{"x":0.95,"y":-0.35,"z":15.1},{"x":1.05,"y":-0.35,"z":16.1},{"x":1.15,"y":-0.35,"z":17.2},{"x":1.25,"y":-0.35,"z":18.4},{"x":1.35,"y":-0.35,"z":19.7},{"x":1.45,"y":-0.35,"z":21.1},{"x":1.55,"y":-0.35,"z":22.6},{"x":1.65,"y":-0.35,"z":24.2},{"x":1.75,"y":-0.35,"z":25.9},{"x":1.85,"y":-0.35,"z":27.7},{"x":1.95,"y":-0.35,"z":29.6},
{"x":-1.95,"y":-0.45,"z":30.0},{"x":-1.85,"y":-0.45,"z":28.1},{"x":-1.75,"y":-0.45,"z":26.3},{"x":-1.65,"y":-0.45,"z":24.6},{"x":-1.55,"y":-0.45,"z":23.0},{"x":-1.45,"y":-0.45,"z":21.5},{"x":-1.35,"y":-0.45,"z":20.1},{"x":-1.25,"y":-0.45,"z":18.8},{"x":-1.15,"y":-0.45,"z":17.6},{"x":-1.05,"y":-0.45,"z":16.5},{"x":-0.95,"y":-0.45,"z":15.5},{"x":-0.85,"y":-0.45,"z":14.6},{"x":-0.75,"y":-0.45,"z":13.8},{"x":-0.65,"y":-0.45,"z":13.1},{"x":-0.55,"y":-0.45,"z":12.5},{"x":-0.45,"y":-0.45,"z":12.0},{"x":-0.35,"y":-0.45,"z":11.6},{"x":-0.25,"y":-0.45,"z":11.3},{"x":-0.15,"y":-0.45,"z":11.1},{"x":-0.05,"y":-0.45,"z":11.0},{"x":0.05,"y":-0.45,"z":11.0},{"x":0.15,"y":-0.45,"z":11.1},{"x":0.25,"y":-0.45,"z":11.3},{"x":0.35,"y":-0.45,"z":11.6},{"x":0.45,"y":-0.45,"z":12.0},{"x":0.55,"y":-0.45,"z":12.5},{"x":0.65,"y":-0.45,"z":13.1},{"x":0.75,"y":-0.45,"z":13.8},{"x":0.85,"y":-0.45,"z":14.6},{"x":0.95,"y":-0.45,"z":15.5},{"x":1.05,"y":-0.45,"z":16.5},{"x":1.15,"y":-0.45,"z":17.6},{"x":1.25,"y":-0.45,"z":18.8},{"x":1.35,"y":-0.45,"z":20.1},{"x":1.45,"y":-0.45,"z":21.5},{"x":1.55,"y":-0.45,"z":23.0},{"x":1.65,"y":-0.45,"z":24.6},{"x":1.75,"y":-0.45,"z":26.3},{"x":1.85,"y":-0.45,"z":28.1},{"x":1.95,"y":-0.45,"z":30.0},
{"x":-1.95,"y":-0.55,"z":30.5},{"x":-1.85,"y":-0.55,"z":28.6},{"x":-1.75,"y":-0.55,"z":26.8},{"x":-1.65,"y":-0.55,"z":25.1},{"x":-1.55,"y":-0.55,"z":23.5},{"x":-1.45,"y":-0.55,"z":22.0},{"x":-1.35,"y":-0.55,"z":20.6},{"x":-1.25,"y":-0.55,"z":19.3},{"x":-1.15,"y":-0.55,"z":18.1},{"x":-1.05,"y":-0.55,"z":17.0},{"x":-0.95,"y":-0.55,"z":16.0},{"x":-0.85,"y":-0.55,"z":15.1},{"x":-0.75,"y":-0.55,"z":14.3},{"x":-0.65,"y":-0.55,"z":13.6},{"x":-0.55,"y":-0.55,"z":13.0},{"x":-0.45,"y":-0.55,"z":12.5},{"x":-0.35,"y":-0.55,"z":12.1},{"x":-0.25,"y":-0.55,"z":11.8},{"x":-0.15,"y":-0.55,"z":11.6},{"x":-0.05,"y":-0.55,"z":11.5},{"x":0.05,"y":-0.55,"z":11.5},{"x":0.15,"y":-0.55,"z":11.6},{"x":0.25,"y":-0.55,"z":11.8},{"x":0.35,"y":-0.55,"z":12.1},{"x":0.45,"y":-0.55,"z":12.5},{"x":0.55,"y":-0.55,"z":13.0},{"x":0.65,"y":-0.55,"z":13.6},{"x":0.75,"y":-0.55,"z":14.3},{"x":0.85,"y":-0.55,"z":15.1},{"x":0.95,"y":-0.55,"z":16.0},{"x":1.05,"y":-0.55,"z":17.0},{"x":1.15,"y":-0.55,"z":18.1},{"x":1.25,"y":-0.55,"z":19.3},{"x":1.35,"y":-0.55,"z":20.6},{"x":1.45,"y":-0.55,"z":22.0},{"x":1.55,"y":-0.55,"z":23.5},{"x":1.65,"y":-0.55,"z":25.1},{"x":1.75,"y":-0.55,"z":26.8},{"x":1.85,"y":-0.55,"z":28.6},{"x":1.95,"y":-0.55,"z":30.5},
{"x":-1.95,"y":-0.65,"z":31.1},{"x":-1.85,"y":-0.65,"z":29.2},{"x":-1.75,"y":-0.65,"z":27.4},{"x":-1.65,"y":-0.65,"z":25.7},{"x":-1.55,"y":-0.65,"z":24.1},{"x":-1.45,"y":-0.65,"z":22.6},{"x":-1.35,"y":-0.65,"z":21.2},{"x":-1.25,"y":-0.65,"z":19.9},{"x":-1.15,"y":-0.65,"z":18.7},{"x":-1.05,"y":-0.65,"z":17.6},{"x":-0.95,"y":-0.65,"z":16.6},{"x":-0.85,"y":-0.65,"z":15.7},{"x":-0.75,"y":-0.65,"z":14.9},{"x":-0.65,"y":-0.65,"z":14.2},{"x":-0.55,"y":-0.65,"z":13.6},{"x":-0.45,"y":-0.65,"z":13.1},{"x":-0.35,"y":-0.65,"z":12.7},{"x":-0.25,"y":-0.65,"z":12.4},{"x":-0.15,"y":-0.65,"z":12.2},{"x":-0.05,"y":-0.65,"z":12.1},{"x":0.05,"y":-0.65,"z":12.1},{"x":0.15,"y":-0.65,"z":12.2},{"x":0.25,"y":-0.65,"z":12.4},{"x":0.35,"y":-0.65,"z":12.7},{"x":0.45,"y":-0.65,"z":13.1},{"x":0.55,"y":-0.65,"z":13.6},{"x":0.65,"y":-0.65,"z":14.2},{"x":0.75,"y":-0.65,"z":14.9},{"x":0.85,"y":-0.65,"z":15.7},{"x":0.95,"y":-0.65,"z":16.6},{"x":1.05,"y":-0.65,"z":17.6},{"x":1.15,"y":-0.65,"z":18.7},{"x":1.25,"y":-0.65,"z":19.9},{"x":1.35,"y":-0.65,"z":21.2},{"x":1.45,"y":-0.65,"z":22.6},{"x":1.55,"y":-0.65,"z":24.1},{"x":1.65,"y":-0.65,"z":25.7},{"x":1.75,"y":-0.65,"z":27.4},{"x":1.85,"y":-0.65,"z":29.2},{"x":1.95,"y":-0.65,"z":31.1},
{"x":-1.95,"y":-0.75,"z":31.8},{"x":-1.85,"y":-0.75,"z":29.9},{"x":-1.75,"y":-0.75,"z":28.1},{"x":-1.65,"y":-0.75,"z":26.4},{"x":-1.55,"y":-0.75,"z":24.8},{"x":-1.45,"y":-0.75,"z":23.3},{"x":-1.35,"y":-0.75,"z":21.9},{"x":-1.25,"y":-0.75,"z":20.6},{"x":-1.15,"y":-0.75,"z":19.4},{"x":-1.05,"y":-0.75,"z":18.3},{"x":-0.95,"y":-0.75,"z":17.3},{"x":-0.85,"y":-0.75,"z":16.4},{"x":-0.75,"y":-0.75,"z":15.6},{"x":-0.65,"y":-0.75,"z":14.9},{"x":-0.55,"y":-0.75,"z":14.3},{"x":-0.45,"y":-0.75,"z":13.8},{"x":-0.35,"y":-0.75,"z":13.4},{"x":-0.25,"y":-0.75,"z":13.1},{"x":-0.15,"y":-0.75,"z":12.9},{"x":-0.05,"y":-0.75,"z":12.8},{"x":0.05,"y":-0.75,"z":12.8},{"x":0.15,"y":-0.75,"z":12.9},{"x":0.25,"y":-0.75,"z":13.1},{"x":0.35,"y":-0.75,"z":13.4},{"x":0.45,"y":-0.75,"z":13.8},{"x":0.55,"y":-0.75,"z":14.3},{"x":0.65,"y":-0.75,"z":14.9},{"x":0.75,"y":-0.75,"z":15.6},{"x":0.85,"y":-0.75,"z":16.4},{"x":0.95,"y":-0.75,"z":17.3},{"x":1.05,"y":-0.75,"z":18.3},{"x":1.15,"y":-0.75,"z":19.4},{"x":1.25,"y":-0.75,"z":20.6},{"x":1.35,"y":-0.75,"z":21.9},{"x":1.45,"y":-0.75,"z":23.3},{"x":1.55,"y":-0.75,"z":24.8},{"x":1.65,"y":-0.75,"z":26.4},{"x":1.75,"y":-0.75,"z":28.1},{"x":1.85,"y":-0.75,"z":29.9},{"x":1.95,"y":-0.75,"z":31.8},
{"x":-1.95,"y":-0.85,"z":32.6},{"x":-1.85,"y":-0.85,"z":30.7},{"x":-1.75,"y":-0.85,"z":28.9},{"x":-1.65,"y":-0.85,"z":27.2},{"x":-1.55,"y":-0.85,"z":25.6},{"x":-1.45,"y":-0.85,"z":24.1},{"x":-1.35,"y":-0.85,"z":22.7},{"x":-1.25,"y":-0.85,"z":21.4},{"x":-1.15,"y":-0.85,"z":20.2},{"x":-1.05,"y":-0.85,"z":19.1},{"x":-0.95,"y":-0.85,"z":18.1},{"x":-0.85,"y":-0.85,"z":17.2},{"x":-0.75,"y":-0.85,"z":16.4},{"x":-0.65,"y":-0.85,"z":15.7},{"x":-0.55,"y":-0.85,"z":15.1},{"x":-0.45,"y":-0.85,"z":14.6},{"x":-0.35,"y":-0.85,"z":14.2},{"x":-0.25,"y":-0.85,"z":13.9},{"x":-0.15,"y":-0.85,"z":13.7},{"x":-0.05,"y":-0.85,"z":13.6},{"x":0.05,"y":-0.85,"z":13.6},{"x":0.15,"y":-0.85,"z":13.7},{"x":0.25,"y":-0.85,"z":13.9},{"x":0.35,"y":-0.85,"z":14.2},{"x":0.45,"y":-0.85,"z":14.6},{"x":0.55,"y":-0.85,"z":15.1},{"x":0.65,"y":-0.85,"z":15.7},{"x":0.75,"y":-0.85,"z":16.4},{"x":0.85,"y":-0.85,"z":17.2},{"x":0.95,"y":-0.85,"z":18.1},{"x":1.05,"y":-0.85,"z":19.1},{"x":1.15,"y":-0.85,"z":20.2},{"x":1.25,"y":-0.85,"z":21.4},{"x":1.35,"y":-0.85,"z":22.7},{"x":1.45,"y":-0.85,"z":24.1},{"x":1.55,"y":-0.85,"z":25.6},{"x":1.65,"y":-0.85,"z":27.2},{"x":1.75,"y":-0.85,"z":28.9},{"x":1.85,"y":-0.85,"z":30.7},{"x":1.95,"y":-0.85,"z":32.6},
{"x":-1.95,"y":-0.95,"z":33.5},{"x":-1.85,"y":-0.95,"z":31.6},{"x":-1.75,"y":-0.95,"z":29.8},{"x":-1.65,"y":-0.95,"z":28.1},{"x":-1.55,"y":-0.95,"z":26.5},{"x":-1.45,"y":-0.95,"z":25.0},{"x":-1.35,"y":-0.95,"z":23.6},{"x":-1.25,"y":-0.95,"z":22.3},{"x":-1.15,"y":-0.95,"z":21.1},{"x":-1.05,"y":-0.95,"z":20.0},{"x":-0.95,"y":-0.95,"z":19.0},{"x":-0.85,"y":-0.95,"z":18.1},{"x":-0.75,"y":-0.95,"z":17.3},{"x":-0.65,"y":-0.95,"z":16.6},{"x":-0.55,"y":-0.95,"z":16.0},{"x":-0.45,"y":-0.95,"z":15.5},{"x":-0.35,"y":-0.95,"z":15.1},{"x":-0.25,"y":-0.95,"z":14.8},{"x":-0.15,"y":-0.95,"z":14.6},{"x":-0.05,"y":-0.95,"z":14.5},{"x":0.05,"y":-0.95,"z":14.5},{"x":0.15,"y":-0.95,"z":14.6},{"x":0.25,"y":-0.95,"z":14.8},{"x":0.35,"y":-0.95,"z":15.1},{"x":0.45,"y":-0.95,"z":15.5},{"x":0.55,"y":-0.95,"z":16.0},{"x":0.65,"y":-0.95,"z":16.6},{"x":0.75,"y":-0.95,"z":17.3},{"x":0.85,"y":-0.95,"z":18.1},{"x":0.95,"y":-0.95,"z":19.0},{"x":1.05,"y":-0.95,"z":20.0},{"x":1.15,"y":-0.95,"z":21.1},{"x":1.25,"y":-0.95,"z":22.3},{"x":1.35,"y":-0.95,"z":23.6},{"x":1.45,"y":-0.95,"z":25.0},{"x":1.55,"y":-0.95,"z":26.5},{"x":1.65,"y":-0.95,"z":28.1},{"x":1.75,"y":-0.95,"z":29.8},{"x":1.85,"y":-0.95,"z":31.6},{"x":1.95,"y":-0.95,"z":33.5},
{"x":-1.95,"y":-1.05,"z":34.5},{"x":-1.85,"y":-1.05,"z":32.6},{"x":-1.75,"y":-1.05,"z":30.8},{"x":-1.65,"y":-1.05,"z":29.1},{"x":-1.55,"y":-1.05,"z":27.5},{"x":-1.45,"y":-1.05,"z":26.0},{"x":-1.35,"y":-1.05,"z":24.6},{"x":-1.25,"y":-1.05,"z":23.3},{"x":-1.15,"y":-1.05,"z":22.1},{"x":-1.05,"y":-1.05,"z":21.0},{"x":-0.95,"y":-1.05,"z":20.0},{"x":-0.85,"y":-1.05,"z":19.1},{"x":-0.75,"y":-1.05,"z":18.3},{"x":-0.65,"y":-1.05,"z":17.6},{"x":-0.55,"y":-1.05,"z":17.0},{"x":-0.45,"y":-1.05,"z":16.5},{"x":-0.35,"y":-1.05,"z":16.1},{"x":-0.25,"y":-1.05,"z":15.8},{"x":-0.15,"y":-1.05,"z":15.6},{"x":-0.05,"y":-1.05,"z":15.5},{"x":0.05,"y":-1.05,"z":15.5},{"x":0.15,"y":-1.05,"z":15.6},{"x":0.25,"y":-1.05,"z":15.8},{"x":0.35,"y":-1.05,"z":16.1},{"x":0.45,"y":-1.05,"z":16.5},{"x":0.55,"y":-1.05,"z":17.0},{"x":0.65,"y":-1.05,"z":17.6},{"x":0.75,"y":-1.05,"z":18.3},{"x":0.85,"y":-1.05,"z":19.1},{"x":0.95,"y":-1.05,"z":20.0},{"x":1.05,"y":-1.05,"z":21.0},{"x":1.15,"y":-1.05,"z":22.1},{"x":1.25,"y":-1.05,"z":23.3},{"x":1.35,"y":-1.05,"z":24.6},{"x":1.45,"y":-1.05,"z":26.0},{"x":1.55,"y":-1.05,"z":27.5},{"x":1.65,"y":-1.05,"z":29.1},{"x":1.75,"y":-1.05,"z":30.8},{"x":1.85,"y":-1.05,"z":32.6},{"x":1.95,"y":-1.05,"z":34.5},
{"x":-1.95,"y":-1.15,"z":35.6},{"x":-1.85,"y":-1.15,"z":33.7},{"x":-1.75,"y":-1.15,"z":31.9},{"x":-1.65,"y":-1.15,"z":30.2},{"x":-1.55,"y":-1.15,"z":28.6},{"x":-1.45,"y":-1.15,"z":27.1},{"x":-1.35,"y":-1.15,"z":25.7},{"x":-1.25,"y":-1.15,"z":24.4},{"x":-1.15,"y":-1.15,"z":23.2},{"x":-1.05,"y":-1.15,"z":22.1},{"x":-0.95,"y":-1.15,"z":21.1},{"x":-0.85,"y":-1.15,"z":20.2},{"x":-0.75,"y":-1.15,"z":19.4},{"x":-0.65,"y":-1.15,"z":18.7},{"x":-0.55,"y":-1.15,"z":18.1},{"x":-0.45,"y":-1.15,"z":17.6},{"x":-0.35,"y":-1.15,"z":17.2},{"x":-0.25,"y":-1.15,"z":16.9},{"x":-0.15,"y":-1.15,"z":16.7},{"x":-0.05,"y":-1.15,"z":16.6},{"x":0.05,"y":-1.15,"z":16.6},{"x":0.15,"y":-1.15,"z":16.7},{"x":0.25,"y":-1.15,"z":16.9},{"x":0.35,"y":-1.15,"z":17.2},{"x":0.45,"y":-1.15,"z":17.6},{"x":0.55,"y":-1.15,"z":18.1},{"x":0.65,"y":-1.15,"z":18.7},{"x":0.75,"y":-1.15,"z":19.4},{"x":0.85,"y":-1.15,"z":20.2},{"x":0.95,"y":-1.15,"z":21.1},{"x":1.05,"y":-1.15,"z":22.1},{"x":1.15,"y":-1.15,"z":23.2},{"x":1.25,"y":-1.15,"z":24.4},{"x":1.35,"y":-1.15,"z":25.7},{"x":1.45,"y":-1.15,"z":27.1},{"x":1.55,"y":-1.15,"z":28.6},{"x":1.65,"y":-1.15,"z":30.2},{"x":1.75,"y":-1.15,"z":31.9},{"x":1.85,"y":-1.15,"z":33.7},{"x":1.95,"y":-1.15,"z":35.6},
{"x":-1.95,"y":-1.25,"z":36.8},{"x":-1.85,"y":-1.25,"z":34.9},{"x":-1.75,"y":-1.25,"z":33.1},{"x":-1.65,"y":-1.25,"z":31.4},{"x":-1.55,"y":-1.25,"z":29.8},{"x":-1.45,"y":-1.25,"z":28.3},{"x":-1.35,"y":-1.25,"z":26.9},{"x":-1.25,"y":-1.25,"z":25.6},{"x":-1.15,"y":-1.25,"z":24.4},{"x":-1.05,"y":-1.25,"z":23.3},{"x":-0.95,"y":-1.25,"z":22.3},{"x":-0.85,"y":-1.25,"z":21.4},{"x":-0.75,"y":-1.25,"z":20.6},{"x":-0.65,"y":-1.25,"z":19.9},{"x":-0.55,"y":-1.25,"z":19.3},{"x":-0.45,"y":-1.25,"z":18.8},{"x":-0.35,"y":-1.25,"z":18.4},{"x":-0.25,"y":-1.25,"z":18.1},{"x":-0.15,"y":-1.25,"z":17.9},{"x":-0.05,"y":-1.25,"z":17.8},{"x":0.05,"y":-1.25,"z":17.8},{"x":0.15,"y":-1.25,"z":17.9},{"x":0.25,"y":-1.25,"z":18.1},{"x":0.35,"y":-1.25,"z":18.4},{"x":0.45,"y":-1.25,"z":18.8},{"x":0.55,"y":-1.25,"z":19.3},{"x":0.65,"y":-1.25,"z":19.9},{"x":0.75,"y":-1.25,"z":20.6},{"x":0.85,"y":-1.25,"z":21.4},{"x":0.95,"y":-1.25,"z":22.3},{"x":1.05,"y":-1.25,"z":23.3},{"x":1.15,"y":-1.25,"z":24.4},{"x":1.25,"y":-1.25,"z":25.6},{"x":1.35,"y":-1.25,"z":26.9},{"x":1.45,"y":-1.25,"z":28.3},{"x":1.55,"y":-1.25,"z":29.8},{"x":1.65,"y":-1.25,"z":31.4},{"x":1.75,"y":-1.25,"z":33.1},{"x":1.85,"y":-1.25,"z":34.9},{"x":1.95,"y":-1.25,"z":36.8},
{"x":-1.95,"y":-1.35,"z":38.1},{"x":-1.85,"y":-1.35,"z":36.2},{"x":-1.75,"y":-1.35,"z":34.4},{"x":-1.65,"y":-1.35,"z":32.7},{"x":-1.55,"y":-1.35,"z":31.1},{"x":-1.45,"y":-1.35,"z":29.6},{"x":-1.35,"y":-1.35,"z":28.2},{"x":-1.25,"y":-1.35,"z":26.9},{"x":-1.15,"y":-1.35,"z":25.7},{"x":-1.05,"y":-1.35,"z":24.6},{"x":-0.95,"y":-1.35,"z":23.6},{"x":-0.85,"y":-1.35,"z":22.7},{"x":-0.75,"y":-1.35,"z":21.9},{"x":-0.65,"y":-1.35,"z":21.2},{"x":-0.55,"y":-1.35,"z":20.6},{"x":-0.45,"y":-1.35,"z":20.1},{"x":-0.35,"y":-1.35,"z":19.7},{"x":-0.25,"y":-1.35,"z":19.4},{"x":-0.15,"y":-1.35,"z":19.2},{"x":-0.05,"y":-1.35,"z":19.1},{"x":0.05,"y":-1.35,"z":19.1},{"x":0.15,"y":-1.35,"z":19.2},{"x":0.25,"y":-1.35,"z":19.4},{"x":0.35,"y":-1.35,"z":19.7},{"x":0.45,"y":-1.35,"z":20.1},{"x":0.55,"y":-1.35,"z":20.6},{"x":0.65,"y":-1.35,"z":21.2},{"x":0.75,"y":-1.35,"z":21.9},{"x":0.85,"y":-1.35,"z":22.7},{"x":0.95,"y":-1.35,"z":23.6},{"x":1.05,"y":-1.35,"z":24.6},{"x":1.15,"y":-1.35,"z":25.7},{"x":1.25,"y":-1.35,"z":26.9},{"x":1.35,"y":-1.35,"z":28.2},{"x":1.45,"y":-1.35,"z":29.6},{"x":1.55,"y":-1.35,"z":31.1},{"x":1.65,"y":-1.35,"z":32.7},{"x":1.75,"y":-1.35,"z":34.4},{"x":1.85,"y":-1.35,"z":36.2},{"x":1.95,"y":-1.35,"z":38.1},
{"x":-1.95,"y":-1.45,"z":39.5},{"x":-1.85,"y":-1.45,"z":37.6},{"x":-1.75,"y":-1.45,"z":35.8},{"x":-1.65,"y":-1.45,"z":34.1},{"x":-1.55,"y":-1.45,"z":32.5},{"x":-1.45,"y":-1.45,"z":31.0},{"x":-1.35,"y":-1.45,"z":29.6},{"x":-1.25,"y":-1.45,"z":28.3},{"x":-1.15,"y":-1.45,"z":27.1},{"x":-1.05,"y":-1.45,"z":26.0},{"x":-0.95,"y":-1.45,"z":25.0},{"x":-0.85,"y":-1.45,"z":24.1},{"x":-0.75,"y":-1.45,"z":23.3},{"x":-0.65,"y":-1.45,"z":22.6},{"x":-0.55,"y":-1.45,"z":22.0},{"x":-0.45,"y":-1.45,"z":21.5},{"x":-0.35,"y":-1.45,"z":21.1},{"x":-0.25,"y":-1.45,"z":20.8},{"x":-0.15,"y":-1.45,"z":20.6},{"x":-0.05,"y":-1.45,"z":20.5},{"x":0.05,"y":-1.45,"z":20.5},{"x":0.15,"y":-1.45,"z":20.6},{"x":0.25,"y":-1.45,"z":20.8},{"x":0.35,"y":-1.45,"z":21.1},{"x":0.45,"y":-1.45,"z":21.5},{"x":0.55,"y":-1.45,"z":22.0},{"x":0.65,"y":-1.45,"z":22.6},{"x":0.75,"y":-1.45,"z":23.3},{"x":0.85,"y":-1.45,"z":24.1},{"x":0.95,"y":-1.45,"z":25.0},{"x":1.05,"y":-1.45,"z":26.0},{"x":1.15,"y":-1.45,"z":27.1},{"x":1.25,"y":-1.45,"z":28.3},{"x":1.35,"y":-1.45,"z":29.6},{"x":1.45,"y":-1.45,"z":31.0},{"x":1.55,"y":-1.45,"z":32.5},{"x":1.65,"y":-1.45,"z":34.1},{"x":1.75,"y":-1.45,"z":35.8},{"x":1.85,"y":-1.45,"z":37.6},{"x":1.95,"y":-1.45,"z":39.5},
{"x":-1.95,"y":-1.55,"z":41.0},{"x":-1.85,"y":-1.55,"z":39.1},{"x":-1.75,"y":-1.55,"z":37.3},{"x":-1.65,"y":-1.55,"z":35.6},{"x":-1.55,"y":-1.55,"z":34.0},{"x":-1.45,"y":-1.55,"z":32.5},{"x":-1.35,"y":-1.55,"z":31.1},{"x":-1.25,"y":-1.55,"z":29.8},{"x":-1.15,"y":-1.55,"z":28.6},{"x":-1.05,"y":-1.55,"z":27.5},{"x":-0.95,"y":-1.55,"z":26.5},{"x":-0.85,"y":-1.55,"z":25.6},{"x":-0.75,"y":-1.55,"z":24.8},{"x":-0.65,"y":-1.55,"z":24.1},{"x":-0.55,"y":-1.55,"z":23.5},{"x":-0.45,"y":-1.55,"z":23.0},{"x":-0.35,"y":-1.55,"z":22.6},{"x":-0.25,"y":-1.55,"z":22.3},{"x":-0.15,"y":-1.55,"z":22.1},{"x":-0.05,"y":-1.55,"z":22.0},{"x":0.05,"y":-1.55,"z":22.0},{"x":0.15,"y":-1.55,"z":22.1},{"x":0.25,"y":-1.55,"z":22.3},{"x":0.35,"y":-1.55,"z":22.6},{"x":0.45,"y":-1.55,"z":23.0},{"x":0.55,"y":-1.55,"z":23.5},{"x":0.65,"y":-1.55,"z":24.1},{"x":0.75,"y":-1.55,"z":24.8},{"x":0.85,"y":-1.55,"z":25.6},{"x":0.95,"y":-1.55,"z":26.5},{"x":1.05,"y":-1.55,"z":27.5},{"x":1.15,"y":-1.55,"z":28.6},{"x":1.25,"y":-1.55,"z":29.8},{"x":1.35,"y":-1.55,"z":31.1},{"x":1.45,"y":-1.55,"z":32.5},{"x":1.55,"y":-1.55,"z":34.0},{"x":1.65,"y":-1.55,"z":35.6},{"x":1.75,"y":-1.55,"z":37.3},{"x":1.85,"y":-1.55,"z":39.1},{"x":1.95,"y":-1.55,"z":41.0},
{"x":-1.95,"y":-1.65,"z":42.6},{"x":-1.85,"y":-1.65,"z":40.7},{"x":-1.75,"y":-1.65,"z":38.9},{"x":-1.65,"y":-1.65,"z":37.2},{"x":-1.55,"y":-1.65,"z":35.6},{"x":-1.45,"y":-1.65,"z":34.1},{"x":-1.35,"y":-1.65,"z":32.7},{"x":-1.25,"y":-1.65,"z":31.4},{"x":-1.15,"y":-1.65,"z":30.2},{"x":-1.05,"y":-1.65,"z":29.1},{"x":-0.95,"y":-1.65,"z":28.1},{"x":-0.85,"y":-1.65,"z":27.2},{"x":-0.75,"y":-1.65,"z":26.4},{"x":-0.65,"y":-1.65,"z":25.7},{"x":-0.55,"y":-1.65,"z":25.1},{"x":-0.45,"y":-1.65,"z":24.6},{"x":-0.35,"y":-1.65,"z":24.2},{"x":-0.25,"y":-1.65,"z":23.9},{"x":-0.15,"y":-1.65,"z":23.7},{"x":-0.05,"y":-1.65,"z":23.6},{"x":0.05,"y":-1.65,"z":23.6},{"x":0.15,"y":-1.65,"z":23.7},{"x":0.25,"y":-1.65,"z":23.9},{"x":0.35,"y":-1.65,"z":24.2},{"x":0.45,"y":-1.65,"z":24.6},{"x":0.55,"y":-1.65,"z":25.1},{"x":0.65,"y":-1.65,"z":25.7},{"x":0.75,"y":-1.65,"z":26.4},{"x":0.85,"y":-1.65,"z":27.2},{"x":0.95,"y":-1.65,"z":28.1},{"x":1.05,"y":-1.65,"z":29.1},{"x":1.15,"y":-1.65,"z":30.2},{"x":1.25,"y":-1.65,"z":31.4},{"x":1.35,"y":-1.65,"z":32.7},{"x":1.45,"y":-1.65,"z":34.1},{"x":1.55,"y":-1.65,"z":35.6},{"x":1.65,"y":-1.65,"z":37.2},{"x":1.75,"y":-1.65,"z":38.9},{"x":1.85,"y":-1.65,"z":40.7},{"x":1.95,"y":-1.65,"z":42.6},
{"x":-1.95,"y":-1.75,"z":44.3},{"x":-1.85,"y":-1.75,"z":42.4},{"x":-1.75,"y":-1.75,"z":40.6},{"x":-1.65,"y":-1.75,"z":38.9},{"x":-1.55,"y":-1.75,"z":37.3},{"x":-1.45,"y":-1.75,"z":35.8},{"x":-1.35,"y":-1.75,"z":34.4},{"x":-1.25,"y":-1.75,"z":33.1},{"x":-1.15,"y":-1.75,"z":31.9},{"x":-1.05,"y":-1.75,"z":30.8},{"x":-0.95,"y":-1.75,"z":29.8},{"x":-0.85,"y":-1.75,"z":28.9},{"x":-0.75,"y":-1.75,"z":28.1},{"x":-0.65,"y":-1.75,"z":27.4},{"x":-0.55,"y":-1.75,"z":26.8},{"x":-0.45,"y":-1.75,"z":26.3},{"x":-0.35,"y":-1.75,"z":25.9},{"x":-0.25,"y":-1.75,"z":25.6},{"x":-0.15,"y":-1.75,"z":25.4},{"x":-0.05,"y":-1.75,"z":25.3},{"x":0.05,"y":-1.75,"z":25.3},{"x":0.15,"y":-1.75,"z":25.4},{"x":0.25,"y":-1.75,"z":25.6},{"x":0.35,"y":-1.75,"z":25.9},{"x":0.45,"y":-1.75,"z":26.3},{"x":0.55,"y":-1.75,"z":26.8},{"x":0.65,"y":-1.75,"z":27.4},{"x":0.75,"y":-1.75,"z":28.1},{"x":0.85,"y":-1.75,"z":28.9},{"x":0.95,"y":-1.75,"z":29.8},{"x":1.05,"y":-1.75,"z":30.8},{"x":1.15,"y":-1.75,"z":31.9},{"x":1.25,"y":-1.75,"z":33.1},{"x":1.35,"y":-1.75,"z":34.4},{"x":1.45,"y":-1.75,"z":35.8},{"x":1.55,"y":-1.75,"z":37.3},{"x":1.65,"y":-1.75,"z":38.9},{"x":1.75,"y":-1.75,"z":40.6},{"x":1.85,"y":-1.75,"z":42.4},{"x":1.95,"y":-1.75,"z":44.3},
{"x":-1.95,"y":-1.85,"z":46.1},{"x":-1.85,"y":-1.85,"z":44.2},{"x":-1.75,"y":-1.85,"z":42.4},{"x":-1.65,"y":-1.85,"z":40.7},{"x":-1.55,"y":-1.85,"z":39.1},{"x":-1.45,"y":-1.85,"z":37.6},{"x":-1.35,"y":-1.85,"z":36.2},{"x":-1.25,"y":-1.85,"z":34.9},{"x":-1.15,"y":-1.85,"z":33.7},{"x":-1.05,"y":-1.85,"z":32.6},{"x":-0.95,"y":-1.85,"z":31.6},{"x":-0.85,"y":-1.85,"z":30.7},{"x":-0.75,"y":-1.85,"z":29.9},{"x":-0.65,"y":-1.85,"z":29.2},{"x":-0.55,"y":-1.85,"z":28.6},{"x":-0.45,"y":-1.85,"z":28.1},{"x":-0.35,"y":-1.85,"z":27.7},{"x":-0.25,"y":-1.85,"z":27.4},{"x":-0.15,"y":-1.85,"z":27.2},{"x":-0.05,"y":-1.85,"z":27.1},{"x":0.05,"y":-1.85,"z":27.1},{"x":0.15,"y":-1.85,"z":27.2},{"x":0.25,"y":-1.85,"z":27.4},{"x":0.35,"y":-1.85,"z":27.7},{"x":0.45,"y":-1.85,"z":28.1},{"x":0.55,"y":-1.85,"z":28.6},{"x":0.65,"y":-1.85,"z":29.2},{"x":0.75,"y":-1.85,"z":29.9},{"x":0.85,"y":-1.85,"z":30.7},{"x":0.95,"y":-1.85,"z":31.6},{"x":1.05,"y":-1.85,"z":32.6},{"x":1.15,"y":-1.85,"z":33.7},{"x":1.25,"y":-1.85,"z":34.9},{"x":1.35,"y":-1.85,"z":36.2},{"x":1.45,"y":-1.85,"z":37.6},{"x":1.55,"y":-1.85,"z":39.1},{"x":1.65,"y":-1.85,"z":40.7},{"x":1.75,"y":-1.85,"z":42.4},{"x":1.85,"y":-1.85,"z":44.2},{"x":1.95,"y":-1.85,"z":46.1},
{"x":-1.95,"y":-1.95,"z":48.0},{"x":-1.85,"y":-1.95,"z":46.1},{"x":-1.75,"y":-1.95,"z":44.3},{"x":-1.65,"y":-1.95,"z":42.6},{"x":-1.55,"y":-1.95,"z":41.0},{"x":-1.45,"y":-1.95,"z":39.5},{"x":-1.35,"y":-1.95,"z":38.1},{"x":-1.25,"y":-1.95,"z":36.8},{"x":-1.15,"y":-1.95,"z":35.6},{"x":-1.05,"y":-1.95,"z":34.5},{"x":-0.95,"y":-1.95,"z":33.5},{"x":-0.85,"y":-1.95,"z":32.6},{"x":-0.75,"y":-1.95,"z":31.8},{"x":-0.65,"y":-1.95,"z":31.1},{"x":-0.55,"y":-1.95,"z":30.5},{"x":-0.45,"y":-1.95,"z":30.0},{"x":-0.35,"y":-1.95,"z":29.6},{"x":-0.25,"y":-1.95,"z":29.3},{"x":-0.15,"y":-1.95,"z":29.1},{"x":-0.05,"y":-1.95,"z":29.0},{"x":0.05,"y":-1.95,"z":29.0},{"x":0.15,"y":-1.95,"z":29.1},{"x":0.25,"y":-1.95,"z":29.3},{"x":0.35,"y":-1.95,"z":29.6},{"x":0.45,"y":-1.95,"z":30.0},{"x":0.55,"y":-1.95,"z":30.5},{"x":0.65,"y":-1.95,"z":31.1},{"x":0.75,"y":-1.95,"z":31.8},{"x":0.85,"y":-1.95,"z":32.6},{"x":0.95,"y":-1.95,"z":33.5},{"x":1.05,"y":-1.95,"z":34.5},{"x":1.15,"y":-1.95,"z":35.6},{"x":1.25,"y":-1.95,"z":36.8},{"x":1.35,"y":-1.95,"z":38.1},{"x":1.45,"y":-1.95,"z":39.5},{"x":1.55,"y":-1.95,"z":41.0},{"x":1.65,"y":-1.95,"z":42.6},{"x":1.75,"y":-1.95,"z":44.3},{"x":1.85,"y":-1.95,"z":46.1},{"x":1.95,"y":-1.95,"z":48.0}
]},
"mark":{"type":"point","shape":"square","filled":true,"opacity":1,"strokeWidth":0,"size":961,"clip":true},
"encoding":{
"x":{"field":"x","type":"quantitative","scale":{"domain":[-2,2],"nice":false,"zero":false},"axis":{"labelPadding":14,"values":[-2,-1.5,-1,-0.5,0,0.5,1,1.5,2],"format":".1f"}},
"y":{"field":"y","type":"quantitative","scale":{"domain":[-2,2],"nice":false,"zero":false},"axis":{"labelPadding":16,"values":[-2,-1.5,-1,-0.5,0,0.5,1,1.5,2],"format":".1f"}},
"color":{"field":"z","type":"quantitative","scale":{"domain":[10,14,18,22,26,30,34,38,42,46,50.01],"range":["#67001f","#b2182b","#d6604d","#f4a582","#fddbc7","#ffffff","#e0e0e0","#bababa","#878787","#4d4d4d","#1a1a1a"],"interpolate":"rgb"},
"legend":{"type":"gradient","title":null,"orient":"right","direction":"vertical","values":[15,20,25,30,35,40,45,50],"gradientLength":1208,"gradientThickness":61,"gradientStrokeColor":"black","gradientStrokeWidth":1.5,"labelFont":"DejaVu Sans","labelFontSize":35,"labelColor":"black","labelOffset":30,"labelOverlap":false,"offset":86,"padding":0}}
}
}
